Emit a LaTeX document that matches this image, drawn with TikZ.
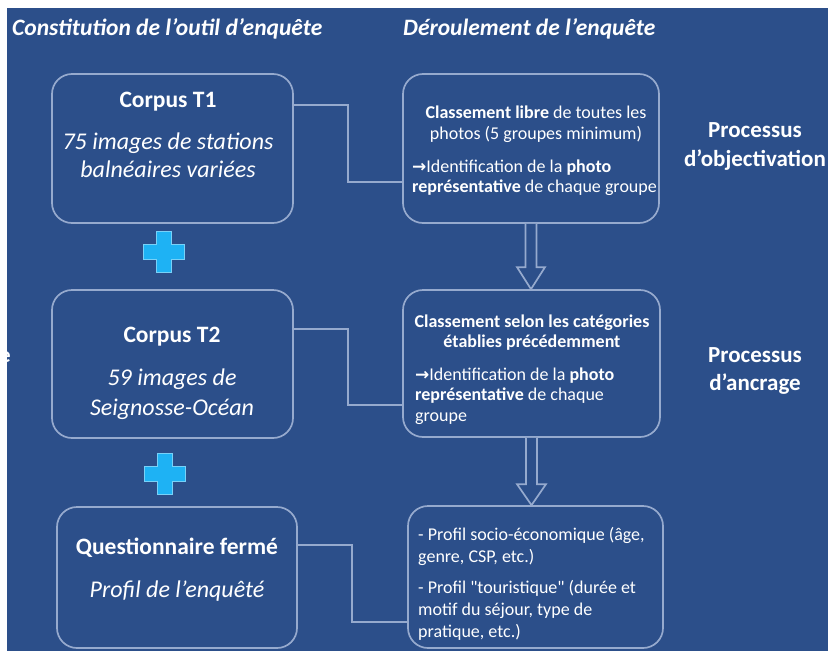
\documentclass[tikz,border=0pt]{standalone}
\usepackage{fontspec}
\setmainfont{Carlito}[Ligatures=TeXOff]
\newfontfamily\symfont{DejaVu Sans}
\usetikzlibrary{calc}
\definecolor{bgblue}{RGB}{44,79,138}
\definecolor{edgec}{RGB}{150,170,206}
\definecolor{plusblue}{RGB}{30,178,244}
\newcommand{\rarr}{{\symfont\bfseries\fontsize{17}{20}\selectfont →}}
\begin{document}
\begin{tikzpicture}[x=1pt,y=-1pt,
  box/.style={draw=edgec, line width=1.7pt, rounded corners=20pt, inner sep=0pt},
  conn/.style={draw=edgec, line width=1.7pt},
  barrow/.style={draw=edgec, line width=1.7pt, fill=bgblue, line join=miter},
  plusc/.style={fill=plusblue, draw=plusblue!60!white, line width=0.6pt},
  txt/.style={text=white, inner sep=0pt},
  hdr/.style={txt, font=\fontsize{23.5}{28}\selectfont\bfseries\itshape, anchor=base west},
  ttl/.style={txt, font=\fontsize{23.5}{28}\selectfont\bfseries, anchor=base},
  sub/.style={txt, font=\fontsize{24}{29}\selectfont\itshape, anchor=base},
  smc/.style={txt, font=\fontsize{18}{22}\selectfont, anchor=base},
  sml/.style={txt, font=\fontsize{18}{22}\selectfont, anchor=base west},
  proc/.style={txt, font=\fontsize{23}{28}\selectfont\bfseries, anchor=base},
]
% background
\fill[white] (0,0) rectangle (828,651);
\fill[bgblue] (7,8) rectangle (828,651);
\useasboundingbox (0,0) rectangle (828,651);

% clipped fragment at the left edge
\begin{scope}
  \clip (7,330) rectangle (11,380);
  \node[txt, font=\fontsize{22}{26}\selectfont\bfseries, anchor=base east] (frag) at (11,362) {e};
\end{scope}

% headers
\node[hdr] (h1) at (12,35) {Constitution de l’outil d’enquête};
\node[hdr] (h2) at (403,35) {Déroulement de l’enquête};

% boxes
\node[box, minimum width=241pt, minimum height=149pt] (t1) at (172.5,148.5) {};
\node[box, minimum width=241pt, minimum height=148pt] (t2) at (172.5,364) {};
\node[box, minimum width=240pt, minimum height=141pt] (q)  at (177,577.5) {};
\node[box, minimum width=256pt, minimum height=149pt] (r1) at (531,148.5) {};
\node[box, minimum width=257pt, minimum height=147pt] (r2) at (531.5,363.5) {};
\node[box, minimum width=255pt, minimum height=142pt] (r3) at (535.5,577) {};

% left texts
\node[ttl] (t1a) at (168,107.5) {Corpus T1};
\node[sub] (t1b) at (168,149.5) {75 images de stations};
\node[sub] (t1c) at (168,177.5) {balnéaires variées};
\node[ttl] (t2a) at (172,342.5) {Corpus T2};
\node[sub] (t2b) at (172,385.5) {59 images de};
\node[sub] (t2c) at (172,415.5) {Seignosse-Océan};
\node[ttl] (qa) at (177,554.5) {Questionnaire fermé};
\node[sub] (qb) at (177,597.5) {Profil de l’enquêté};

% right texts
\node[smc] (r1a) at (536,118.5) {\textbf{Classement libre} de toutes les};
\node[smc] (r1b) at (536,139.5) {photos (5 groupes minimum)};
\node[sml] (r1c) at (412,172.5) {\rarr Identification de la \textbf{photo}};
\node[sml] (r1d) at (412,192.5) {\textbf{représentative} de chaque groupe};

\node[smc] (r2a) at (532,327.5) {\textbf{Classement selon les catégories}};
\node[smc] (r2b) at (532,347.5) {\textbf{établies précédemment}};
\node[sml] (r2c) at (415,380.5) {\rarr Identification de la \textbf{photo}};
\node[sml] (r2d) at (415,400.5) {\textbf{représentative} de chaque};
\node[sml] (r2e) at (415,421.5) {groupe};

\node[sml] (r3a) at (418,540.5) {- Profil socio-économique (âge,};
\node[sml] (r3b) at (418,562.5) {genre, CSP, etc.)};
\node[sml] (r3c) at (418,593.5) {- Profil "touristique" (durée et};
\node[sml] (r3d) at (418,615.5) {motif du séjour, type de};
\node[sml] (r3e) at (418,637.5) {pratique, etc.)};

% process labels
\node[proc] (p1a) at (755,137) {Processus};
\node[proc] (p1b) at (755,166) {d’objectivation};
\node[proc] (p2a) at (755,362) {Processus};
\node[proc] (p2b) at (755,390) {d’ancrage};

% connectors
\coordinate (k1a) at (348,105);
\coordinate (k1b) at (348,182);
\draw[conn] (t1.east |- k1a) -- (k1a) -- (k1b) -- (r1.west |- k1b);
\coordinate (k2a) at (348,329);
\coordinate (k2b) at (348,405);
\draw[conn] (t2.east |- k2a) -- (k2a) -- (k2b) -- (r2.west |- k2b);
\coordinate (k3a) at (352,545);
\coordinate (k3b) at (352,622);
\draw[conn] (q.east |- k3a) -- (k3a) -- (k3b) -- (r3.west |- k3b);

% block arrows
\coordinate (a1s) at (r1.south);
\coordinate (a1t) at (r1.south |- r2.north);
\draw[barrow] ($(a1s)+(-5.5,0)$) -- ($(a1t)+(-5.5,-22)$) -- ($(a1t)+(-14,-22)$) -- (a1t)
  -- ($(a1t)+(14,-22)$) -- ($(a1t)+(5.5,-22)$) -- ($(a1s)+(5.5,0)$);
\coordinate (a2s) at (r2.south);
\coordinate (a2t) at (r2.south |- r3.north);
\draw[barrow] ($(a2s)+(-5.5,0)$) -- ($(a2t)+(-5.5,-21)$) -- ($(a2t)+(-14.5,-21)$) -- (a2t)
  -- ($(a2t)+(14.5,-21)$) -- ($(a2t)+(5.5,-21)$) -- ($(a2s)+(5.5,0)$);

% plus signs
\coordinate (pl1) at (164,252);
\coordinate (pl2) at (165,474);
\foreach \c in {pl1,pl2}{
  \draw[plusc] (\c) ++(-7.5,-20.5) -- ++(15,0) -- ++(0,13) -- ++(13,0) -- ++(0,15)
    -- ++(-13,0) -- ++(0,13) -- ++(-15,0) -- ++(0,-13) -- ++(-13,0) -- ++(0,-15)
    -- ++(13,0) -- cycle;
}
\end{tikzpicture}
\end{document}
